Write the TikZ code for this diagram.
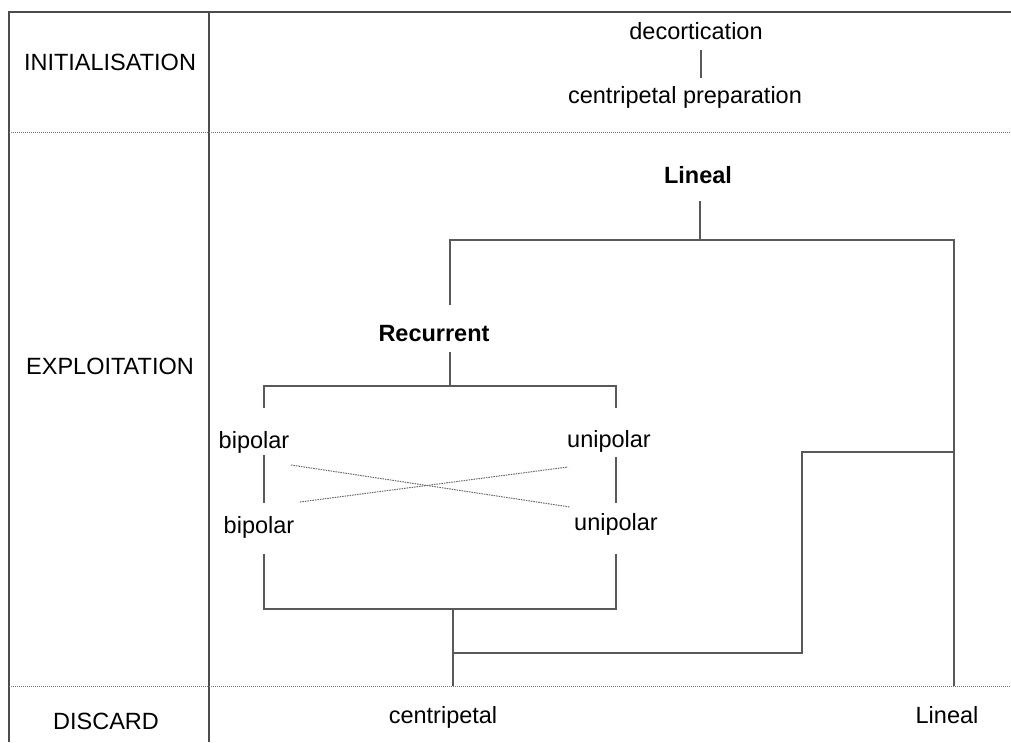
\documentclass[tikz,border=0pt]{standalone}
\usepackage{fontspec}
\setmainfont{Liberation Sans}
\begin{document}
\begin{tikzpicture}[x=1pt,y=-1pt,
  lbl/.style={inner sep=0pt,anchor=base,font=\fontsize{23.5}{27}\selectfont},
  blbl/.style={lbl,font=\fontsize{23.5}{27}\selectfont\bfseries},
  border/.style={draw=black!70,line width=1.4pt},
  sep/.style={draw=black!55,line width=1pt,dash pattern=on 1.2pt off 0.8pt},
  link/.style={draw=black!65,line width=1.4pt},
  cross/.style={draw=black!60,line width=1pt,dash pattern=on 1.5pt off 1pt}]
\useasboundingbox (0,0) rectangle (1011,742);
% frame
\coordinate (tl) at (9,12); \coordinate (tr) at (1011,12);
\coordinate (bl) at (9,742);
\coordinate (dt) at (209,12); \coordinate (db) at (209,742);
\coordinate (s1l) at (9,132); \coordinate (s1r) at (1011,132);
\coordinate (s2l) at (9,686); \coordinate (s2r) at (1011,686);
\draw[border] (tr) -- (tl) -- (bl);
\draw[border] (dt) -- (db);
\draw[sep] (s1l) -- (s1r);
\draw[sep] (s2l) -- (s2r);
% phase labels
\node[lbl] (init) at (110,70) {INITIALISATION};
\node[lbl] (expl) at (110,374) {EXPLOITATION};
\node[lbl] (disc) at (106,729) {DISCARD};
% initialisation
\node[lbl] (dec) at (696,39) {decortication};
\node[lbl] (prep) at (685,103) {centripetal preparation};
\coordinate (d1) at (701,50); \coordinate (d2) at (701,78);
\draw[link] (d1) -- (d2);
% lineal
\node[blbl] (lin) at (698,183) {Lineal};
\coordinate (l1) at (700,201); \coordinate (l2) at (700,240);
\coordinate (l3) at (450,240); \coordinate (l4) at (450,305);
\coordinate (l5) at (954,240); \coordinate (l6) at (954,686);
\draw[link] (l1) -- (l2);
\draw[link] (l4) -- (l3) -- (l5) -- (l6);
% recurrent
\node[blbl] (rec) at (434,341) {Recurrent};
\coordinate (r1) at (450,352); \coordinate (r2) at (450,386);
\coordinate (r3) at (264,386); \coordinate (r4) at (264,408);
\coordinate (r5) at (616,386); \coordinate (r6) at (616,408);
\draw[link] (r1) -- (r2);
\draw[link] (r4) -- (r3) -- (r5) -- (r6);
% bipolar / unipolar
\node[lbl] (bp1) at (254,448) {bipolar};
\node[lbl] (up1) at (609,447) {unipolar};
\node[lbl] (bp2) at (259,533) {bipolar};
\node[lbl] (up2) at (616,530) {unipolar};
\coordinate (b1) at (264,455); \coordinate (b2) at (264,503);
\coordinate (u1) at (616,457); \coordinate (u2) at (616,503);
\draw[link] (b1) -- (b2);
\draw[link] (u1) -- (u2);
\coordinate (x1) at (291,465); \coordinate (x2) at (570,507);
\coordinate (x3) at (300,502); \coordinate (x4) at (568,467);
\draw[cross] (x1) -- (x2);
\draw[cross] (x3) -- (x4);
% bottom bracket
\coordinate (k1) at (264,554); \coordinate (k2) at (264,609);
\coordinate (k3) at (616,609); \coordinate (k4) at (616,554);
\coordinate (k5) at (453,609); \coordinate (k6) at (453,686);
\coordinate (k7) at (453,653); \coordinate (k8) at (802,653);
\coordinate (k9) at (802,452); \coordinate (k10) at (954,452);
\draw[link] (k1) -- (k2) -- (k3) -- (k4);
\draw[link] (k5) -- (k6);
\draw[link] (k7) -- (k8) -- (k9) -- (k10);
% discard
\node[lbl] (cen) at (443,723) {centripetal};
\node[lbl] (lin2) at (947,723) {Lineal};
\end{tikzpicture}
\end{document}
